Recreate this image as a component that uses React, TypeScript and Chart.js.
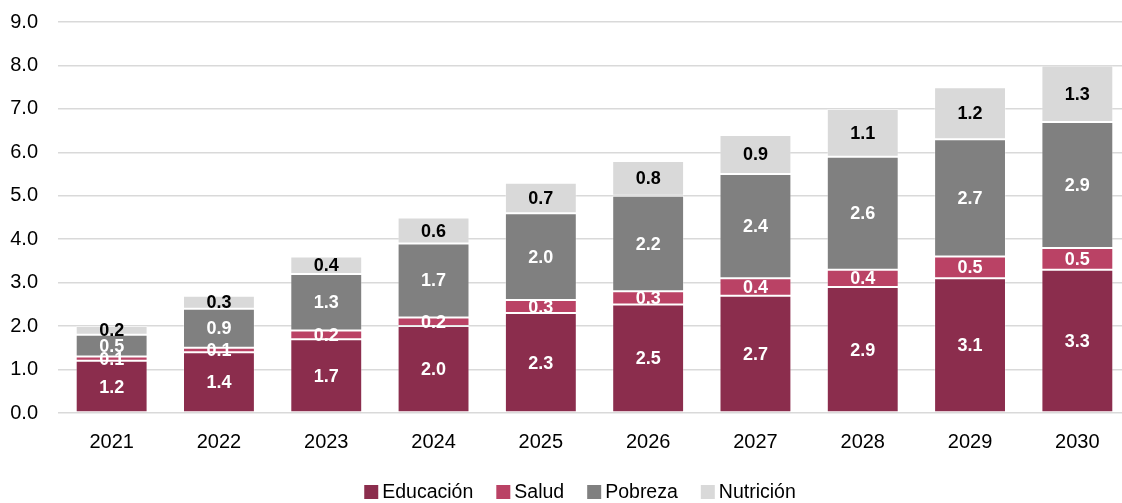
import React, { useEffect, useRef } from "react";
import { Chart, registerables } from "chart.js";

Chart.register(...registerables);

const years = ["2021", "2022", "2023", "2024", "2025", "2026", "2027", "2028", "2029", "2030"];
const educacion = [1.2, 1.4, 1.7, 2.0, 2.3, 2.5, 2.7, 2.9, 3.1, 3.3];
const salud = [0.1, 0.1, 0.2, 0.2, 0.3, 0.3, 0.4, 0.4, 0.5, 0.5];
const pobreza = [0.5, 0.9, 1.3, 1.7, 2.0, 2.2, 2.4, 2.6, 2.7, 2.9];
const nutricion = [0.2, 0.3, 0.4, 0.6, 0.7, 0.8, 0.9, 1.1, 1.2, 1.3];
const yTicks = [0, 1, 2, 3, 4, 5, 6, 7, 8, 9];

const FONT = "'Liberation Sans', Arial, sans-serif";

const labelPlugin = {
  id: "segLabels",
  afterDatasetsDraw(chart: any) {
    const ctx = chart.ctx;
    ctx.save();
    ctx.font = `bold 18px ${FONT}`;
    ctx.textAlign = "center";
    ctx.textBaseline = "middle";
    chart.data.datasets.forEach((ds: any, di: number) => {
      const meta = chart.getDatasetMeta(di);
      meta.data.forEach((bar: any, i: number) => {
        const v = ds.data[i];
        const y = (bar.y + bar.base) / 2;
        ctx.fillStyle = ds.labelColor;
        ctx.fillText(v.toFixed(1), bar.x, y + 1);
      });
    });
    ctx.restore();
  },
};

const customLegend = {
  id: "customLegend",
  afterDraw(chart: any) {
    const ctx = chart.ctx;
    const ds = chart.data.datasets;
    const box = 14;
    const textGap = 4;
    const itemGap = 23;
    ctx.save();
    ctx.font = `19.5px ${FONT}`;
    const widths = ds.map((d: any) => box + textGap + ctx.measureText(d.label).width);
    const total = widths.reduce((a: number, b: number) => a + b, 0) + itemGap * (ds.length - 1);
    const cy = 492;
    let x = 580 - total / 2;
    ctx.textBaseline = "middle";
    ctx.textAlign = "left";
    ds.forEach((d: any, i: number) => {
      ctx.fillStyle = d.backgroundColor;
      ctx.fillRect(x, cy - box / 2, box, box);
      ctx.fillStyle = "#000";
      ctx.fillText(d.label, x + box + textGap, cy + 1);
      x += widths[i] + itemGap;
    });
    ctx.restore();
  },
};

export default function App() {
  const ref = useRef<HTMLCanvasElement | null>(null);
  useEffect(() => {
    document.body.style.margin = "0";
    const mk = (label: string, data: number[], color: string, labelColor: string) => ({
      label,
      data,
      backgroundColor: color,
      borderColor: "rgba(255,255,255,0.3)",
      borderWidth: 1,
      borderSkipped: false,
      labelColor,
    });
    const chart = new Chart(ref.current as HTMLCanvasElement, {
      type: "bar",
      data: {
        labels: years,
        datasets: [
          mk("Educación", educacion, "#8B2D4D", "#ffffff"),
          mk("Salud", salud, "#BA4265", "#ffffff"),
          mk("Pobreza", pobreza, "#808080", "#ffffff"),
          mk("Nutrición", nutricion, "#D9D9D9", "#000000"),
        ] as any,
      },
      options: {
        animation: false,
        responsive: false,
        maintainAspectRatio: false,
        layout: { padding: { left: 0, right: 4, top: 22, bottom: 40 } },
        datasets: { bar: { barPercentage: 0.67, categoryPercentage: 1 } },
        plugins: {
          tooltip: { enabled: false },
          legend: { display: false },
        },
        scales: {
          x: {
            stacked: true,
            grid: { display: false },
            border: { display: false },
            ticks: { font: { family: FONT, size: 20 }, color: "#000", padding: 9 },
          },
          y: {
            stacked: true,
            min: 0,
            max: 9,
            afterBuildTicks: (s: any) => {
              s.ticks = yTicks.map((v) => ({ value: v }));
            },
            afterFit: (s: any) => {
              s.width = 58;
              s.paddingTop = 0;
              s.paddingBottom = 0;
            },
            grid: { color: "#D9D9D9", lineWidth: 1.5, drawTicks: false },
            border: { display: false },
            ticks: {
              font: { family: FONT, size: 20 },
              color: "#000",
              padding: 20,
              callback: (v: any) => Number(v).toFixed(1),
            },
          },
        },
      },
      plugins: [labelPlugin, customLegend],
    });
    return () => chart.destroy();
  }, []);
  return (
    <div style={{ width: 1122, height: 503, overflow: "hidden", position: "relative" }}>
      <canvas ref={ref} width={1135} height={503} style={{ display: "block" }} />
    </div>
  );
}
